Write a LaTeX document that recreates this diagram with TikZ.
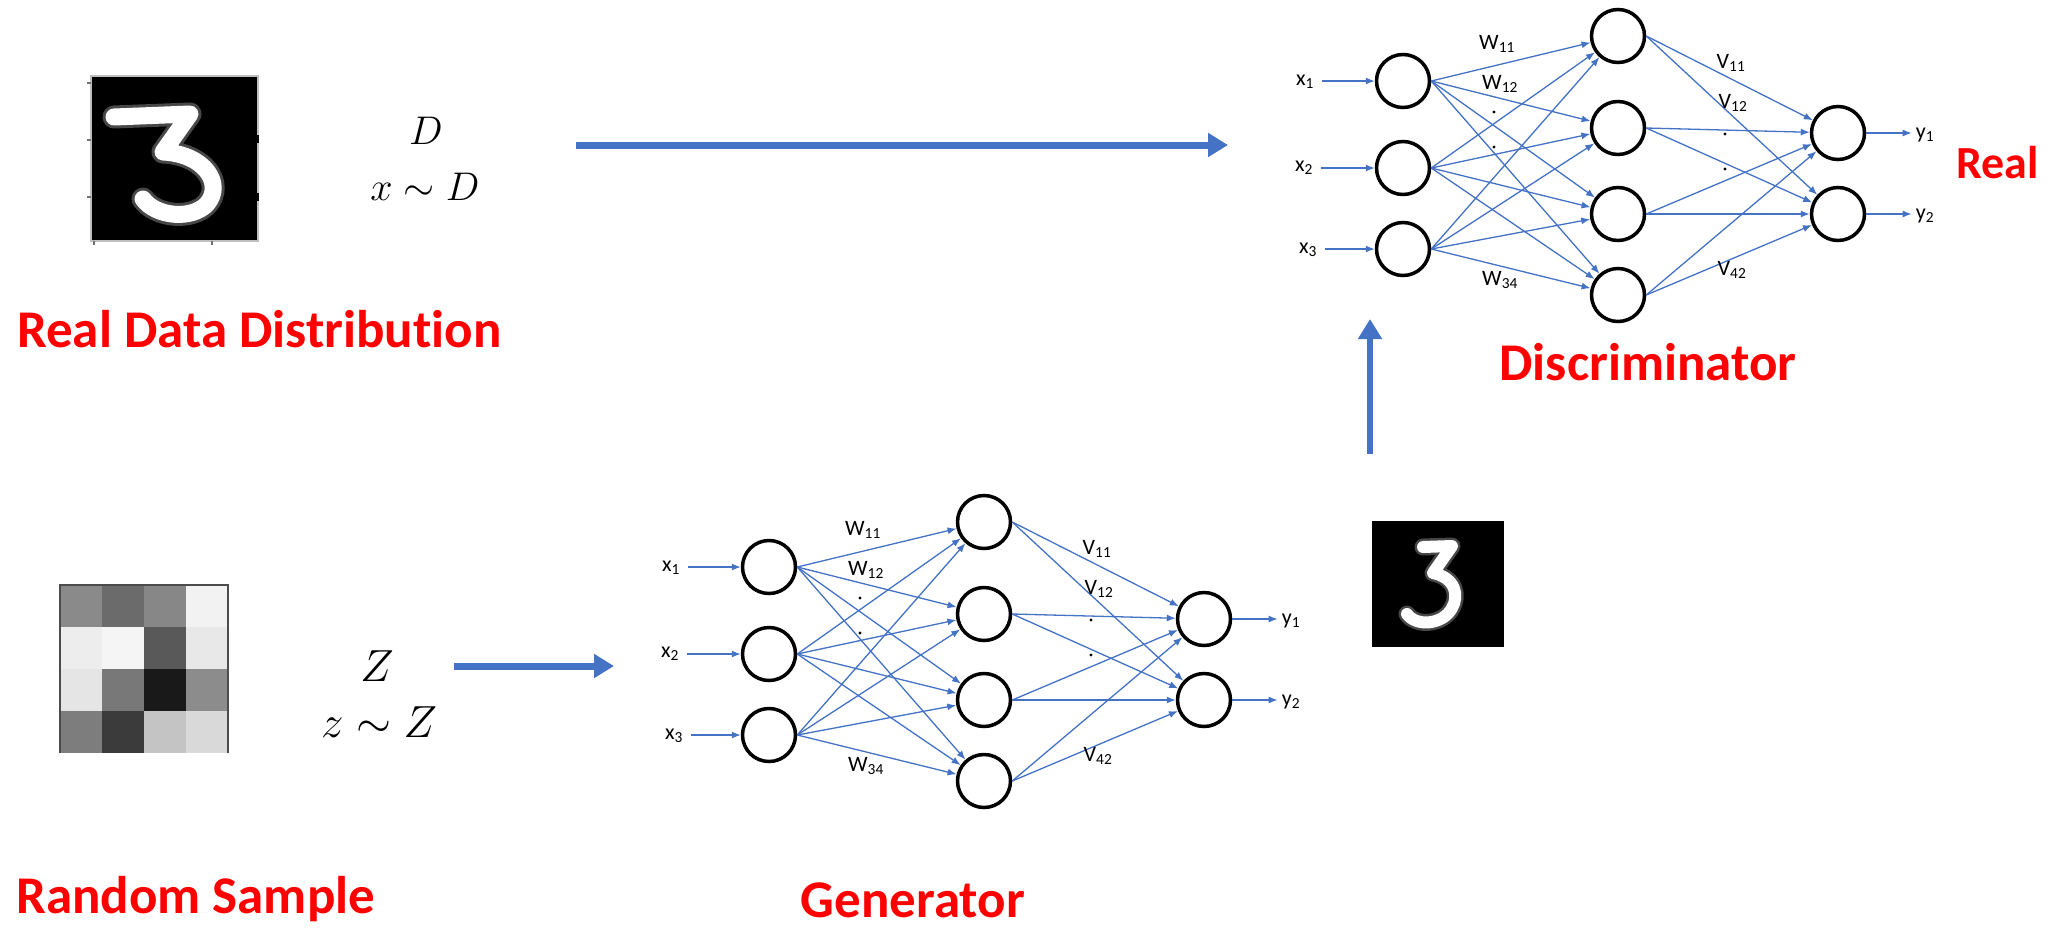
\RequirePackage{fix-cm}
\documentclass[tikz,border=0pt]{standalone}
\usepackage[no-math]{fontspec}
\setmainfont{Carlito}[Ligatures=NoCommon]
\usetikzlibrary{arrows.meta}
\definecolor{netblue}{HTML}{4472C4}
\definecolor{capred}{HTML}{FF0000}

\tikzset{
  neuron/.style={circle, draw=black, line width=3.5pt, minimum size=53pt, inner sep=0pt},
  wire/.style={draw=netblue, line width=1.3pt, -{Latex[length=9pt,width=7pt]}},
  wlabel/.style={font=\fontsize{22}{24}\selectfont, inner sep=0pt},
  inlabel/.style={wlabel, inner xsep=8pt},
  outlabel/.style={wlabel, inner xsep=4pt},
  bigarrow/.style={draw=netblue, line width=7pt, -{Triangle[length=20pt,width=23pt]}},
  caption/.style={text=capred, font=\bfseries\fontsize{53}{60}\selectfont, inner sep=0pt},
  mathlabel/.style={inner sep=0pt, anchor=base},
  digitglow/.style={black!72, line width=23pt, line cap=round, line join=round},
  digitcore/.style={white, line width=17pt, line cap=round, line join=round},
}

% A 3-4-2 fully connected network; #1 = name prefix, (#2,#3) = shift
\newcommand\mlpnet[3]{%
\begin{scope}[shift={(#2,#3)}]
  \foreach \k/\y in {1/81,2/168,3/249}
    \node[neuron] (#1i\k) at (1403,\y) {};
  \foreach \k/\y in {1/36,2/128,3/214,4/295}
    \node[neuron] (#1h\k) at (1618,\y) {};
  \foreach \k/\y in {1/133,2/214}
    \node[neuron] (#1o\k) at (1838,\y) {};
  % inputs
  \node[inlabel] (#1lx1) at (1305,82) {x\textsubscript{1}};
  \node[inlabel] (#1lx2) at (1304,168) {x\textsubscript{2}};
  \node[inlabel] (#1lx3) at (1308,250) {x\textsubscript{3}};
  \foreach \k in {1,2,3}
    \draw[wire] (#1lx\k.east |- #1i\k) -- (#1i\k);
  % weights
  \foreach \a in {1,2,3}
    \foreach \b in {1,2,3,4}
      \draw[wire] (#1i\a.east) -- (#1h\b);
  \foreach \a in {1,2,3,4}
    \foreach \b in {1,2}
      \draw[wire] (#1h\a.east) -- (#1o\b);
  % outputs
  \node[outlabel] (#1ly1) at (1925,135) {y\textsubscript{1}};
  \node[outlabel] (#1ly2) at (1925,216) {y\textsubscript{2}};
  \foreach \k in {1,2}
    \draw[wire] (#1o\k) -- (#1ly\k.west |- #1o\k);
  % weight labels
  \node[wlabel] (#1w11) at (1497,44) {W\textsubscript{11}};
  \node[wlabel] (#1w12) at (1500,84) {W\textsubscript{12}};
  \node[wlabel] (#1w34) at (1500,280) {W\textsubscript{34}};
  \node[wlabel] (#1v11) at (1731,63) {V\textsubscript{11}};
  \node[wlabel] (#1v12) at (1733,103) {V\textsubscript{12}};
  \node[wlabel] (#1v42) at (1732,270) {V\textsubscript{42}};
  \foreach \p in {(1494,112),(1494,147),(1725,134),(1725,169)}
    \fill[black] \p circle (1.7);
\end{scope}}

\begin{document}
\begin{tikzpicture}[x=1pt,y=-1pt]
\useasboundingbox (0,0) rectangle (2047,927);
\fill[white] (0,0) rectangle (2047,927);

% ---- real sample: handwritten 3 ----
\fill[black] (91,76) rectangle (258,241);
\draw[black!25, line width=2pt] (91,76) rectangle (258,241);
\foreach \y in {83,140,197} \draw[black!55, line width=1.5pt] (87,\y) -- (91,\y);
\foreach \x in {94,212} \draw[black!55, line width=1.5pt] (\x,241) -- (\x,245);
\foreach \y in {139,197} \draw[black, line width=2pt] (258,\y-4) -- (258,\y+4);
\draw[digitglow]
  (114,117) -- (190,114) -- (163,152) .. controls (205,154) and (224,184) .. (207,204)
  .. controls (192,220) and (156,217) .. (143,199);
\draw[digitcore]
  (114,117) -- (190,114) -- (163,152) .. controls (205,154) and (224,184) .. (207,204)
  .. controls (192,220) and (156,217) .. (143,199);

\node[mathlabel, font=\fontsize{40}{48}\selectfont] (distD) at (426,144) {$D$};
\node[mathlabel, font=\fontsize{40}{48}\selectfont] (sampleX) at (425,200) {$x \sim D$};
\node[caption, anchor=base west] (realcap) at (17,347) {Real Data Distribution};

% ---- random noise sample ----
\foreach \c/\r/\g in {0/0/54,1/0/42,2/0/53,3/0/95,
                      0/1/93,1/1/96,2/1/35,3/1/91,
                      0/2/90,1/2/47,2/2/10,3/2/55,
                      0/3/49,1/3/23,2/3/77,3/3/85}
  \fill[white!\g!black] (60+42*\c,585+42*\r) rectangle (60+42*\c+42,585+42*\r+42);
\draw[black!70, line width=2pt] (60,753) -- (60,585) -- (228,585) -- (228,753);

\node[mathlabel, font=\fontsize{45}{52}\selectfont] (noiseZ) at (377,681) {$Z$};
\node[mathlabel, font=\fontsize{45}{52}\selectfont] (sampleZ) at (379,737) {$z \sim Z$};
\node[caption, anchor=base west] (noisecap) at (16,913) {Random Sample};

% ---- generated sample ----
\fill[black] (1372,521) rectangle (1504,647);
\draw[digitglow, line width=17pt]
  (1423,547) -- (1452,546) -- (1433,573) .. controls (1456,578) and (1459,596) .. (1452,608)
  .. controls (1443,625) and (1416,627) .. (1407,614);
\draw[digitcore, line width=12pt]
  (1423,547) -- (1452,546) -- (1433,573) .. controls (1456,578) and (1459,596) .. (1452,608)
  .. controls (1443,625) and (1416,627) .. (1407,614);

% ---- networks ----
\mlpnet{d}{0}{0}
\mlpnet{g}{-634}{486}

\node[caption, anchor=base] (disccap) at (1648,380) {Discriminator};
\node[caption, anchor=base] (gencap) at (913,917) {Generator};
\node[caption, anchor=base west, font=\bfseries\fontsize{46}{52}\selectfont] (verdict) at (1956,178) {Real};

% ---- flow arrows ----
\coordinate (realOut) at (576,145);
\coordinate (discIn) at (1228,145);
\coordinate (fakeOut) at (1370,454);
\coordinate (discUp) at (1370,319);
\coordinate (noiseOut) at (454,666);
\coordinate (genIn) at (614,666);
\draw[bigarrow] (realOut) -- (discIn);
\draw[bigarrow, line width=6pt] (fakeOut) -- (discUp);
\draw[bigarrow] (noiseOut) -- (genIn);
\end{tikzpicture}
\end{document}
